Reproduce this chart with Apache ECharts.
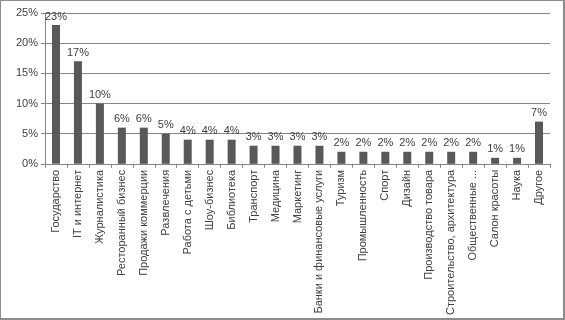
<!DOCTYPE html>
<html>
<head>
<meta charset="utf-8">
<script src="https://cdn.jsdelivr.net/npm/echarts@6/dist/echarts.min.js"></script>
<style>
html, body { margin: 0; padding: 0; background: #fff; }
#chart { width: 562px; height: 317px; border: 1px solid #8c8c8c; border-right-width: 2px; border-bottom-width: 2px; }
</style>
</head>
<body>
<div id="chart"></div>
<script>
var categories = ['Государство', 'IT и интернет', 'Журналистика', 'Ресторанный бизнес', 'Продажи коммерции',
	'Развлечения', 'Работа с детьми', 'Шоу-бизнес', 'Библиотека', 'Транспорт', 'Медицина', 'Маркетинг',
	'Банки и финансовые услуги', 'Туризм', 'Промышленность', 'Спорт', 'Дизайн', 'Производство товара',
	'Строительство, архитектура', 'Общественные ...', 'Салон красоты', 'Наука', 'Другое']; //категории
var shares = [23, 17, 10, 6, 6, 5, 4, 4, 4, 3, 3, 3, 3, 2, 2, 2, 2, 2, 2, 2, 1, 1, 7]; //проценты
var yTicks = { min: 0, max: 25, step: 5 };

var chart = echarts.init(document.getElementById('chart'));
chart.setOption({
	animation: false,
	grid: { left: 44, right: 13, top: 12, bottom: 150 },
	xAxis: {
		type: 'category',
		data: categories,
		axisLine: { lineStyle: { color: '#868686' } },
		axisTick: { show: true, alignWithLabel: false, length: 4, lineStyle: { color: '#868686' } },
		axisLabel: {
			rotate: 90, interval: 0, margin: 6,
			fontFamily: 'Liberation Sans', fontSize: 11, color: '#404040'
		}
	},
	yAxis: {
		type: 'value',
		min: yTicks.min, max: yTicks.max, interval: yTicks.step,
		axisLine: { show: true, lineStyle: { color: '#868686' } },
		axisTick: { show: true, length: 4, lineStyle: { color: '#868686' } },
		splitLine: { lineStyle: { color: '#868686' } },
		axisLabel: {
			formatter: '{value}%', margin: 7,
			fontFamily: 'Liberation Sans', fontSize: 11, color: '#404040'
		}
	},
	series: [{
		type: 'bar',
		data: shares,
		barWidth: 8,
		itemStyle: { color: '#595959' },
		label: {
			show: true, position: 'top', distance: 3,
			formatter: '{c}%',
			fontFamily: 'Liberation Sans', fontSize: 11, color: '#404040'
		}
	}]
});
</script>
</body>
</html>
